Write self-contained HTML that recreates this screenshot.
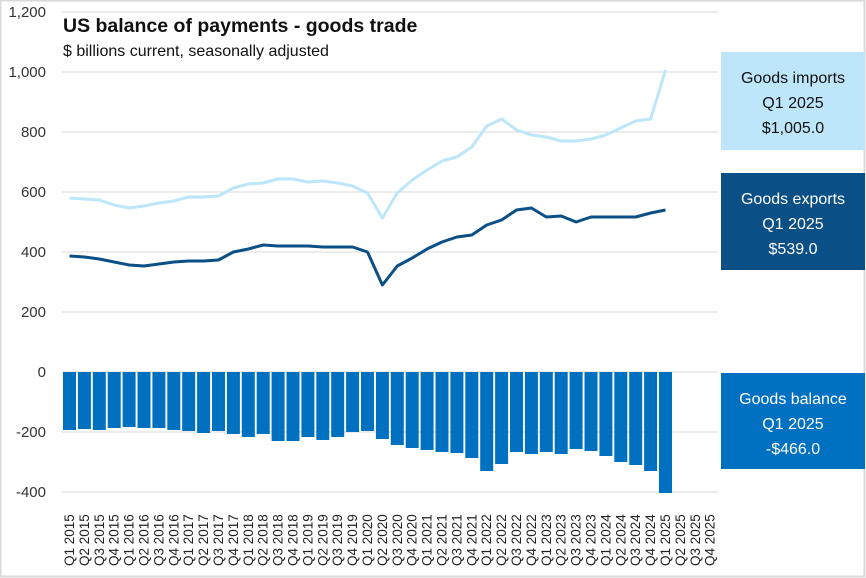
<!DOCTYPE html>
<html><head><meta charset="utf-8"><style>
html,body{margin:0;padding:0;background:#fff}
svg{display:block}
text{font-family:"Liberation Sans",sans-serif}
</style></head><body>
<svg width="866" height="578" viewBox="0 0 866 578" xmlns="http://www.w3.org/2000/svg">
<rect x="0.5" y="0.5" width="864" height="576" fill="#fff" stroke="#d9d9d9" stroke-width="2"/>
<g stroke="#d9d9d9" stroke-width="1">
<line x1="62" y1="12" x2="718" y2="12"/><line x1="62" y1="72" x2="718" y2="72"/><line x1="62" y1="132" x2="718" y2="132"/><line x1="62" y1="192" x2="718" y2="192"/><line x1="62" y1="252" x2="718" y2="252"/><line x1="62" y1="312" x2="718" y2="312"/><line x1="62" y1="372" x2="718" y2="372"/><line x1="62" y1="432" x2="718" y2="432"/><line x1="62" y1="492" x2="718" y2="492"/>
</g>
<g font-size="15" fill="#333" text-anchor="end">
<text x="46" y="17">1,200</text><text x="46" y="77">1,000</text><text x="46" y="137">800</text><text x="46" y="197">600</text><text x="46" y="257">400</text><text x="46" y="317">200</text><text x="46" y="377">0</text><text x="46" y="437">-200</text><text x="46" y="497">-400</text>
</g>
<text x="63" y="32" font-size="19.5" font-weight="bold" fill="#111">US balance of payments - goods trade</text>
<text x="63" y="56" font-size="16" fill="#111">$ billions current, seasonally adjusted</text>
<polyline fill="none" stroke="#bde6fb" stroke-width="3" stroke-linejoin="round" points="69.5,198 84.4,199 99.3,200 114.2,205 129.1,208 144,206 158.9,203 173.8,201 188.7,197 203.6,197 218.5,196 233.4,188 248.3,184 263.2,183 278.1,179 293,179 307.9,182 322.8,181 337.7,183 352.6,186 367.5,193 382.4,218 397.3,193 412.2,180 427.1,170 442,161 456.9,157 471.8,147 486.7,126 501.6,119 516.5,130 531.4,135 546.3,137 561.2,141 576.1,141 591,139 605.9,135 620.8,128 635.7,121 650.6,119 665.5,70"/>
<polyline fill="none" stroke="#0a4f86" stroke-width="3" stroke-linejoin="round" points="69.5,256 84.4,257 99.3,259 114.2,262 129.1,265 144,266 158.9,264 173.8,262 188.7,261 203.6,261 218.5,260 233.4,252 248.3,249 263.2,245 278.1,246 293,246 307.9,246 322.8,247 337.7,247 352.6,247 367.5,252 382.4,285 397.3,266 412.2,258 427.1,249 442,242 456.9,237 471.8,235 486.7,225 501.6,220 516.5,210 531.4,208 546.3,217 561.2,216 576.1,222 591,217 605.9,217 620.8,217 635.7,217 650.6,213 665.5,210"/>
<rect x="721" y="52" width="144" height="98" fill="#bde6fb"/>
<g font-size="16" text-anchor="middle" fill="#111"><text x="793" y="83">Goods imports</text><text x="793" y="108">Q1 2025</text><text x="793" y="133">$1,005.0</text></g>
<rect x="721" y="173" width="144" height="97" fill="#0a4f86"/>
<g font-size="16" text-anchor="middle" fill="#fff"><text x="793" y="204">Goods exports</text><text x="793" y="229">Q1 2025</text><text x="793" y="254">$539.0</text></g>
<rect x="721" y="373" width="144" height="96" fill="#0070c0"/>
<g font-size="16" text-anchor="middle" fill="#fff"><text x="793" y="404">Goods balance</text><text x="793" y="429">Q1 2025</text><text x="793" y="454">-$466.0</text></g>
<g fill="#0070c0">
<rect x="63" y="372" width="13" height="58"/><rect x="77.9" y="372" width="13" height="57"/><rect x="92.8" y="372" width="13" height="58"/><rect x="107.7" y="372" width="13" height="56"/><rect x="122.6" y="372" width="13" height="55"/><rect x="137.5" y="372" width="13" height="56"/><rect x="152.4" y="372" width="13" height="56"/><rect x="167.3" y="372" width="13" height="58"/><rect x="182.2" y="372" width="13" height="59"/><rect x="197.1" y="372" width="13" height="61"/><rect x="212" y="372" width="13" height="59"/><rect x="226.9" y="372" width="13" height="62"/><rect x="241.8" y="372" width="13" height="65"/><rect x="256.7" y="372" width="13" height="62"/><rect x="271.6" y="372" width="13" height="69"/><rect x="286.5" y="372" width="13" height="69"/><rect x="301.4" y="372" width="13" height="65"/><rect x="316.3" y="372" width="13" height="68"/><rect x="331.2" y="372" width="13" height="65"/><rect x="346.1" y="372" width="13" height="60"/><rect x="361" y="372" width="13" height="59"/><rect x="375.9" y="372" width="13" height="67"/><rect x="390.8" y="372" width="13" height="73"/><rect x="405.7" y="372" width="13" height="76"/><rect x="420.6" y="372" width="13" height="78"/><rect x="435.5" y="372" width="13" height="80"/><rect x="450.4" y="372" width="13" height="81"/><rect x="465.3" y="372" width="13" height="86"/><rect x="480.2" y="372" width="13" height="99"/><rect x="495.1" y="372" width="13" height="92"/><rect x="510" y="372" width="13" height="80"/><rect x="524.9" y="372" width="13" height="82"/><rect x="539.8" y="372" width="13" height="80"/><rect x="554.7" y="372" width="13" height="82"/><rect x="569.6" y="372" width="13" height="77"/><rect x="584.5" y="372" width="13" height="79"/><rect x="599.4" y="372" width="13" height="84"/><rect x="614.3" y="372" width="13" height="90"/><rect x="629.2" y="372" width="13" height="93"/><rect x="644.1" y="372" width="13" height="99"/><rect x="659" y="372" width="13" height="121"/>
</g>
<g font-size="13.5" fill="#222">
<text transform="translate(74,566) rotate(-90)">Q1 2015</text><text transform="translate(88.9,566) rotate(-90)">Q2 2015</text><text transform="translate(103.8,566) rotate(-90)">Q3 2015</text><text transform="translate(118.7,566) rotate(-90)">Q4 2015</text><text transform="translate(133.6,566) rotate(-90)">Q1 2016</text><text transform="translate(148.5,566) rotate(-90)">Q2 2016</text><text transform="translate(163.4,566) rotate(-90)">Q3 2016</text><text transform="translate(178.3,566) rotate(-90)">Q4 2016</text><text transform="translate(193.2,566) rotate(-90)">Q1 2017</text><text transform="translate(208.1,566) rotate(-90)">Q2 2017</text><text transform="translate(223,566) rotate(-90)">Q3 2017</text><text transform="translate(237.9,566) rotate(-90)">Q4 2017</text><text transform="translate(252.8,566) rotate(-90)">Q1 2018</text><text transform="translate(267.7,566) rotate(-90)">Q2 2018</text><text transform="translate(282.6,566) rotate(-90)">Q3 2018</text><text transform="translate(297.5,566) rotate(-90)">Q4 2018</text><text transform="translate(312.4,566) rotate(-90)">Q1 2019</text><text transform="translate(327.3,566) rotate(-90)">Q2 2019</text><text transform="translate(342.2,566) rotate(-90)">Q3 2019</text><text transform="translate(357.1,566) rotate(-90)">Q4 2019</text><text transform="translate(372,566) rotate(-90)">Q1 2020</text><text transform="translate(386.9,566) rotate(-90)">Q2 2020</text><text transform="translate(401.8,566) rotate(-90)">Q3 2020</text><text transform="translate(416.7,566) rotate(-90)">Q4 2020</text><text transform="translate(431.6,566) rotate(-90)">Q1 2021</text><text transform="translate(446.5,566) rotate(-90)">Q2 2021</text><text transform="translate(461.4,566) rotate(-90)">Q3 2021</text><text transform="translate(476.3,566) rotate(-90)">Q4 2021</text><text transform="translate(491.2,566) rotate(-90)">Q1 2022</text><text transform="translate(506.1,566) rotate(-90)">Q2 2022</text><text transform="translate(521,566) rotate(-90)">Q3 2022</text><text transform="translate(535.9,566) rotate(-90)">Q4 2022</text><text transform="translate(550.8,566) rotate(-90)">Q1 2023</text><text transform="translate(565.7,566) rotate(-90)">Q2 2023</text><text transform="translate(580.6,566) rotate(-90)">Q3 2023</text><text transform="translate(595.5,566) rotate(-90)">Q4 2023</text><text transform="translate(610.4,566) rotate(-90)">Q1 2024</text><text transform="translate(625.3,566) rotate(-90)">Q2 2024</text><text transform="translate(640.2,566) rotate(-90)">Q3 2024</text><text transform="translate(655.1,566) rotate(-90)">Q4 2024</text><text transform="translate(670,566) rotate(-90)">Q1 2025</text><text transform="translate(684.9,566) rotate(-90)">Q2 2025</text><text transform="translate(699.8,566) rotate(-90)">Q3 2025</text><text transform="translate(714.7,566) rotate(-90)">Q4 2025</text>
</g>
</svg>
</body></html>
